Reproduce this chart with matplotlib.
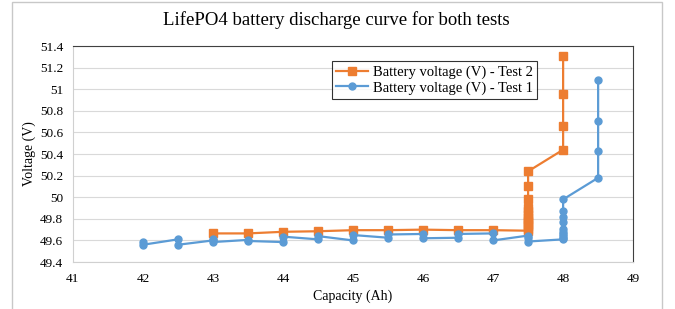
import matplotlib
matplotlib.use("Agg")
import matplotlib.pyplot as plt
from matplotlib.patches import Rectangle

# Test 2 (orange squares)
cap_test2 = [43, 43.5, 44, 44.5, 45, 45.5, 46, 46.5, 47,
             47.5, 47.5, 47.5, 47.5, 47.5, 47.5, 47.5, 47.5, 47.5, 47.5, 47.5, 47.5, 47.5,
             48, 48, 48, 48]
volt_test2 = [49.665, 49.665, 49.68, 49.685, 49.695, 49.695, 49.70, 49.695, 49.695,
              49.69, 49.71, 49.73, 49.75, 49.77, 49.79, 49.81, 49.84, 49.87, 49.90, 49.98, 50.10, 50.24,
              50.44, 50.66, 50.96, 51.31]

# Test 1 (blue circles)
cap_test1 = [42, 42, 42.5, 42.5, 43, 43, 43, 43.5, 43.5, 44, 44, 44.5, 44.5,
             45, 45, 45.5, 45.5, 46, 46, 46.5, 46.5, 47, 47, 47.5, 47.5, 47.5,
             48, 48, 48, 48, 48, 48, 48, 48, 48, 48,
             48.5, 48.5, 48.5, 48.5]
volt_test1 = [49.585, 49.56, 49.61, 49.56, 49.60, 49.61, 49.585, 49.605, 49.595, 49.585, 49.635, 49.61, 49.64,
              49.60, 49.65, 49.625, 49.655, 49.66, 49.62, 49.625, 49.66, 49.665, 49.60, 49.645, 49.62, 49.59,
              49.61, 49.62, 49.64, 49.66, 49.68, 49.71, 49.77, 49.82, 49.87, 49.98,
              50.18, 50.43, 50.71, 51.09]

x_ticks = [41, 42, 43, 44, 45, 46, 47, 48, 49]
y_ticks = [49.4, 49.6, 49.8, 50, 50.2, 50.4, 50.6, 50.8, 51, 51.2, 51.4]

plt.rcParams['font.family'] = ['Liberation Serif', 'DejaVu Serif']

fig = plt.figure(figsize=(6.75, 3.09), dpi=100)
ax = fig.add_axes([0.108, 0.152, 0.83, 0.699])

# outer chart border
fig.patches.append(Rectangle((0.018, -0.02), 0.963, 1.0135, transform=fig.transFigure,
                             fill=False, edgecolor='#c8c8c8', linewidth=1.0))

ax.plot(cap_test2, volt_test2, color='#ED7D31', marker='s', markersize=5.5,
        linewidth=1.6, label='Battery voltage (V) - Test 2')
ax.plot(cap_test1, volt_test1, color='#5B9BD5', marker='o', markersize=5,
        linewidth=1.6, label='Battery voltage (V) - Test 1')

ax.set_xlim(41, 49)
ax.set_ylim(49.4, 51.4)
ax.set_xticks(x_ticks)
ax.set_xticklabels([str(t) for t in x_ticks])
ax.set_yticks(y_ticks)
ax.set_yticklabels([f"{t:g}" for t in y_ticks])
ax.tick_params(length=0, labelsize=9.5)
ax.tick_params(axis='x', pad=8)
ax.tick_params(axis='y', pad=7)

ax.grid(axis='y', color='#d9d9d9', linewidth=0.8)
ax.set_axisbelow(True)
for side in ['left', 'bottom']:
    ax.spines[side].set_color('#d0d0d0')
for side in ['top', 'right']:
    ax.spines[side].set_color('#404040')

# title is centred on the whole chart box, not the plot area
fig.text(0.4985, 0.935, 'LifePO4 battery discharge curve for both tests',
         fontsize=13.5, ha='center', va='center')
ax.set_xlabel('Capacity (Ah)', fontsize=10, labelpad=3)
ax.set_ylabel('Voltage (V)', fontsize=10, labelpad=3)

leg = ax.legend(loc='upper left', bbox_to_anchor=(0.4625, 0.93), fontsize=10.5,
                frameon=True, fancybox=False, edgecolor='black', handlelength=2.2,
                borderpad=0.3, labelspacing=0.15, handletextpad=0.3, borderaxespad=0)
leg.get_frame().set_linewidth(0.8)

fig.savefig('out.png', dpi=100)
